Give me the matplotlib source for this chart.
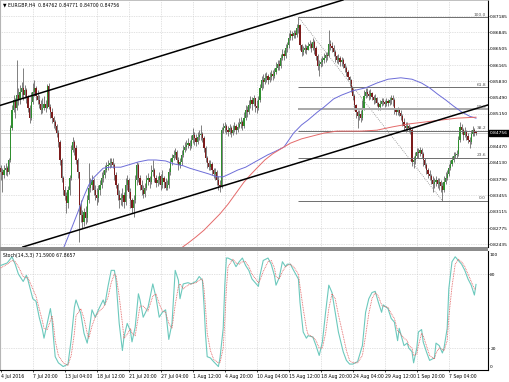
import numpy as np
import matplotlib
matplotlib.use("Agg")
import matplotlib.pyplot as plt
from matplotlib.patches import Rectangle
from matplotlib.transforms import blended_transform_factory as blend

# ---------------- data (EURGBP H4) ----------------
first_open = 0.8402
last_open = 0.84762

close = [
    .8394, .8388, .8398, .8402, .8394, .8419, .8486, .8523, .8544, .8527,
    .8554, .8544, .8560, .8569, .8554, .8565, .8550, .8527, .8506, .8540,
    .8560, .8569, .8552, .8544, .8535, .8523, .8527, .8535, .8527, .8573,
    .8529, .8519, .8506, .8498, .8490, .8475, .8456, .8419, .8382, .8357,
    .8344, .8330, .8357, .8382, .8440, .8456, .8444, .8419, .8394, .8325,
    .8305, .8290, .8311, .8298, .8336, .8361, .8367, .8377, .8357, .8346,
    .8340, .8357, .8367, .8382, .8388, .8398, .8407, .8409, .8413, .8415,
    .8409, .8388, .8367, .8346, .8336, .8340, .8346, .8332, .8367, .8377,
    .8352, .8336, .8319, .8336, .8377, .8409, .8382, .8367, .8357, .8348,
    .8361, .8377, .8382, .8373, .8394, .8398, .8382, .8371, .8377, .8386,
    .8367, .8382, .8373, .8361, .8367, .8394, .8415, .8423, .8430, .8436,
    .8419, .8409, .8415, .8430, .8440, .8446, .8450, .8454, .8448, .8461,
    .8471, .8465, .8456, .8467, .8471, .8473, .8465, .8444, .8423, .8413,
    .8404, .8411, .8398, .8390, .8394, .8377, .8367, .8365, .8481, .8486,
    .8490, .8481, .8477, .8486, .8475, .8481, .8490, .8481, .8488, .8494,
    .8498, .8490, .8506, .8523, .8519, .8533, .8544, .8535, .8548, .8531,
    .8527, .8544, .8569, .8585, .8581, .8590, .8594, .8585, .8592, .8598,
    .8594, .8602, .8610, .8619, .8615, .8631, .8640, .8635, .8652, .8658,
    .8673, .8681, .8677, .8683, .8679, .8694, .8700, .8658, .8644, .8648,
    .8652, .8648, .8656, .8660, .8652, .8664, .8652, .8635, .8615, .8619,
    .8623, .8627, .8631, .8637, .8635, .8660, .8656, .8652, .8644, .8635,
    .8627, .8631, .8623, .8627, .8619, .8610, .8602, .8592, .8585, .8569,
    .8552, .8533, .8519, .8511, .8515, .8506, .8527, .8552, .8560, .8556,
    .8552, .8558, .8550, .8544, .8548, .8538, .8529, .8535, .8542, .8540,
    .8535, .8542, .8538, .8544, .8548, .8544, .8523, .8519, .8523, .8517,
    .8511, .8498, .8490, .8486, .8490, .8486, .8481, .8415, .8419, .8427,
    .8436, .8434, .8440, .8432, .8419, .8409, .8398, .8390, .8386, .8377,
    .8369, .8373, .8377, .8369, .8373, .8365, .8357, .8373, .8382, .8390,
    .8402, .8411, .8419, .8427, .8430, .8432, .8461, .8488, .8481, .8471,
    .8477, .8469, .8461, .8456, .8473, .8481, .8476, .84756,
]

high = [
    .8409, .8402, .8409, .8413, .8407, .8423, .8492, .8533, .8554, .8548,
    .8627, .8569, .8575, .8581, .8610, .8575, .8569, .8554, .8533, .8560,
    .8579, .8585, .8573, .8565, .8554, .8544, .8548, .8552, .8544, .8577,
    .8579, .8535, .8527, .8511, .8502, .8494, .8481, .8461, .8423, .8386,
    .8365, .8352, .8365, .8388, .8450, .8467, .8461, .8450, .8423, .8357,
    .8336, .8315, .8319, .8323, .8346, .8413, .8382, .8388, .8382, .8367,
    .8361, .8367, .8377, .8394, .8398, .8409, .8415, .8419, .8423, .8423,
    .8423, .8413, .8394, .8371, .8357, .8350, .8361, .8352, .8382, .8388,
    .8382, .8361, .8340, .8346, .8388, .8415, .8413, .8388, .8377, .8367,
    .8371, .8388, .8392, .8386, .8409, .8419, .8402, .8388, .8386, .8394,
    .8390, .8398, .8386, .8382, .8377, .8402, .8423, .8432, .8440, .8444,
    .8440, .8425, .8423, .8440, .8450, .8456, .8461, .8465, .8461, .8471,
    .8486, .8477, .8473, .8477, .8481, .8492, .8477, .8469, .8448, .8427,
    .8419, .8419, .8415, .8402, .8402, .8398, .8386, .8377, .8488, .8496,
    .8498, .8494, .8490, .8494, .8490, .8492, .8498, .8494, .8498, .8506,
    .8508, .8502, .8519, .8533, .8531, .8544, .8552, .8550, .8554, .8548,
    .8544, .8552, .8577, .8594, .8598, .8600, .8602, .8598, .8602, .8606,
    .8606, .8610, .8623, .8627, .8627, .8640, .8650, .8648, .8660, .8664,
    .8683, .8689, .8687, .8689, .8689, .8702, .8716, .8702, .8660, .8656,
    .8660, .8658, .8664, .8669, .8664, .8673, .8669, .8656, .8640, .8627,
    .8631, .8635, .8642, .8644, .8644, .8689, .8669, .8664, .8658, .8648,
    .8637, .8640, .8635, .8633, .8631, .8621, .8615, .8606, .8594, .8587,
    .8569, .8556, .8535, .8523, .8523, .8523, .8544, .8565, .8569, .8569,
    .8565, .8567, .8560, .8554, .8556, .8550, .8540, .8544, .8548, .8548,
    .8544, .8548, .8546, .8550, .8554, .8554, .8548, .8527, .8529, .8527,
    .8523, .8515, .8506, .8498, .8498, .8494, .8490, .8486, .8427, .8436,
    .8444, .8444, .8446, .8444, .8436, .8423, .8413, .8402, .8398, .8390,
    .8386, .8382, .8386, .8382, .8382, .8377, .8373, .8386, .8394, .8398,
    .8411, .8419, .8427, .8436, .8436, .8440, .8469, .8498, .8494, .8486,
    .8488, .8481, .8475, .8467, .8481, .8490, .8486, .84771,
]

low = [
    .8377, .8352, .8382, .8388, .8386, .8390, .8415, .8481, .8519, .8506,
    .8523, .8533, .8535, .8548, .8544, .8548, .8538, .8519, .8496, .8502,
    .8535, .8552, .8544, .8535, .8527, .8515, .8517, .8523, .8519, .8535,
    .8525, .8506, .8496, .8486, .8481, .8467, .8446, .8409, .8373, .8346,
    .8336, .8309, .8319, .8346, .8377, .8436, .8430, .8411, .8382, .8248,
    .8290, .8278, .8282, .8286, .8290, .8330, .8352, .8357, .8346, .8336,
    .8325, .8332, .8346, .8361, .8373, .8382, .8394, .8398, .8402, .8404,
    .8402, .8377, .8361, .8336, .8319, .8325, .8323, .8319, .8325, .8357,
    .8340, .8319, .8309, .8300, .8330, .8367, .8373, .8357, .8346, .8340,
    .8342, .8357, .8367, .8361, .8369, .8386, .8373, .8363, .8365, .8369,
    .8357, .8361, .8361, .8357, .8357, .8361, .8388, .8409, .8419, .8423,
    .8413, .8398, .8402, .8409, .8425, .8436, .8440, .8444, .8440, .8444,
    .8454, .8450, .8448, .8452, .8461, .8461, .8456, .8436, .8415, .8402,
    .8398, .8398, .8388, .8382, .8377, .8367, .8357, .8352, .8361, .8475,
    .8477, .8473, .8469, .8473, .8467, .8471, .8477, .8473, .8477, .8486,
    .8486, .8481, .8486, .8502, .8508, .8515, .8527, .8523, .8531, .8519,
    .8517, .8523, .8540, .8565, .8569, .8577, .8581, .8577, .8581, .8585,
    .8585, .8590, .8598, .8606, .8606, .8610, .8627, .8627, .8631, .8644,
    .8652, .8669, .8669, .8673, .8673, .8675, .8683, .8648, .8635, .8637,
    .8642, .8640, .8648, .8652, .8644, .8648, .8640, .8627, .8606, .8594,
    .8612, .8615, .8621, .8623, .8627, .8633, .8648, .8644, .8635, .8623,
    .8621, .8619, .8615, .8615, .8610, .8602, .8594, .8585, .8573, .8560,
    .8544, .8523, .8506, .8486, .8502, .8498, .8502, .8523, .8548, .8550,
    .8544, .8546, .8544, .8535, .8538, .8531, .8523, .8523, .8531, .8533,
    .8529, .8531, .8531, .8533, .8535, .8531, .8515, .8513, .8513, .8511,
    .8502, .8490, .8481, .8477, .8479, .8477, .8473, .8407, .8402, .8411,
    .8423, .8423, .8427, .8423, .8407, .8402, .8390, .8382, .8377, .8369,
    .8352, .8361, .8365, .8361, .8357, .8352, .8334, .8352, .8369, .8377,
    .8386, .8398, .8407, .8415, .8423, .8423, .8427, .8456, .8473, .8461,
    .8467, .8461, .8454, .8444, .8452, .8469, .8469, .84700,
]

# moving averages
ma_blue_bar = [39, 44, 48, 52, 55, 58, 61, 64, 68, 75,
               80, 86, 92, 97, 103, 108, 114, 118, 124, 130,
               135, 139, 143, 148, 153, 161, 167, 171, 177, 183,
               188, 192, 198, 202, 208, 213, 220, 228, 235, 242,
               250, 257, 263, 268, 273, 278, 283, 288, 293, 297]
ma_blue = [.8234, .8275, .8309, .8344, .8367, .8382, .8392, .8402, .8404, .8404,
           .8409, .8415, .8419, .8419, .8417, .8411, .8407, .8402, .8396, .8390,
           .8384, .8384, .8390, .8398, .8404, .8419, .8430, .8436, .8446, .8475,
           .8492, .8502, .8519, .8529, .8546, .8554, .8563, .8569, .8579, .8587,
           .8590, .8587, .8579, .8569, .8556, .8544, .8531, .8519, .8510, .8506]
ma_red_bar = [112, 117, 122, 127, 132, 137, 142, 147, 152, 156, 160, 165, 170, 176,
              181, 188, 195, 202, 210, 218, 225, 235, 245, 255, 265, 275, 285, 297]
ma_red = [.8234, .8246, .8259, .8273, .8290, .8307, .8327, .8350, .8373, .8388, .8402,
          .8419, .8432, .8444, .8454, .8463, .8469, .8475, .8479, .8479, .8479, .8481,
          .8488, .8494, .8498, .8502, .8506, .8508]

# trend channel anchors (bar, price)
chan_upper = [(0, 0.8533), (214, 0.8752)]
chan_lower = [(0, 0.8224), (305, 0.8534)]

# fibonacci retracement
fib_high_bar, fib_high = 186, 0.8716
fib_low_bar, fib_low = 276, 0.8334
fib_levels = [0.0, 23.6, 38.2, 50.0, 61.8, 100.0]

# stochastic (14,3,3)
stoch_bar = [0, 4, 7, 9, 11, 14, 16, 17, 20, 22,
             24, 26, 27, 29, 31, 32, 33, 34, 36, 39,
             42, 44, 46, 47, 50, 52, 54, 55, 57, 59,
             61, 64, 65, 67, 69, 71, 72, 74, 76, 77,
             79, 81, 82, 84, 86, 87, 89, 92, 95, 97,
             99, 101, 103, 105, 107, 109, 111, 112, 114, 117,
             119, 122, 124, 126, 127, 128, 129, 131, 133, 136,
             137, 139, 140, 141, 142, 145, 147, 149, 151, 153,
             155, 157, 161, 162, 164, 167, 169, 171, 172, 174,
             176, 178, 179, 181, 183, 186, 187, 189, 191, 192,
             195, 197, 199, 201, 203, 205, 207, 209, 211, 214,
             216, 218, 220, 223, 226, 228, 230, 232, 234, 236,
             238, 239, 242, 244, 246, 248, 249, 252, 254, 255,
             257, 258, 260, 261, 263, 264, 266, 268, 271, 272,
             274, 276, 277, 279, 280, 282, 284, 286, 288, 290,
             292, 294, 296, 297]
stoch_main = [87, 89, 94, 88, 80, 74, 79, 75, 60, 58,
              45, 35, 28, 40, 52, 43, 27, 13, 8, 5,
              7, 27, 53, 59, 48, 32, 24, 32, 51, 45,
              51, 59, 55, 70, 83, 83, 75, 40, 18, 29,
              40, 34, 25, 37, 64, 59, 45, 53, 72, 61,
              45, 49, 51, 27, 40, 83, 75, 60, 72, 73,
              72, 74, 78, 75, 55, 30, 13, 12, 9, 5,
              12, 36, 71, 93, 93, 91, 86, 90, 93, 87,
              83, 76, 70, 79, 91, 93, 88, 79, 71, 77,
              90, 86, 88, 88, 83, 76, 57, 33, 28, 30,
              29, 22, 14, 25, 49, 71, 65, 49, 33, 17,
              10, 7, 7, 9, 22, 49, 60, 65, 66, 57,
              49, 55, 52, 44, 41, 26, 36, 22, 24, 20,
              17, 8, 20, 33, 35, 25, 17, 10, 12, 24,
              22, 16, 20, 36, 68, 90, 94, 91, 88, 83,
              76, 71, 63, 71.59]
stoch_signal = [85, 88, 91, 90, 86, 78, 77, 77, 68, 62,
                52, 42, 36, 35, 42, 46, 38, 26, 14, 8,
                6, 14, 32, 46, 52, 44, 32, 28, 38, 45,
                49, 53, 55, 61, 73, 80, 79, 62, 40, 28,
                31, 36, 32, 30, 46, 54, 54, 50, 62, 64,
                56, 50, 49, 40, 36, 55, 70, 72, 68, 71,
                72, 73, 75, 76, 68, 52, 32, 18, 11, 8,
                8, 20, 42, 68, 86, 92, 89, 88, 90, 90,
                86, 80, 73, 75, 82, 90, 91, 85, 78, 76,
                82, 86, 87, 88, 86, 80, 70, 52, 36, 31,
                29, 26, 20, 20, 32, 52, 64, 60, 47, 30,
                18, 10, 8, 8, 14, 30, 48, 60, 65, 62,
                55, 54, 53, 48, 44, 34, 33, 28, 26, 22,
                20, 14, 15, 22, 32, 30, 22, 14, 11, 16,
                20, 19, 18, 26, 45, 70, 88, 92, 90, 86,
                80, 74, 68, 67.87]
stoch_levels = [20, 80]

price_ticks = [0.87185, 0.86845, 0.86505, 0.86165, 0.85830, 0.85490, 0.85150, 0.84810,
               0.84470, 0.84130, 0.83790, 0.83455, 0.83115, 0.82775, 0.82435]
price_tick_labels = ["0.87185", "0.86845", "0.86505", "0.86165", "0.85830", "0.85490",
                     "0.85150", "0.84810", "0.84470", "0.84130", "0.83790", "0.83455",
                     "0.83115", "0.82775", "0.82435"]
date_bars = [0, 20, 40, 60, 80, 100, 120, 140, 160, 180, 200, 220, 240, 260, 280]
date_labels = ["4 Jul 2016", "7 Jul 20:00", "13 Jul 04:00", "18 Jul 12:00", "21 Jul 20:00",
               "27 Jul 04:00", "1 Aug 12:00", "4 Aug 20:00", "10 Aug 04:00", "15 Aug 12:00",
               "18 Aug 20:00", "24 Aug 04:00", "29 Aug 12:00", "1 Sep 20:00", "7 Sep 04:00"]

header = "\u25BC EURGBP,H4  0.84762 0.84771 0.84700 0.84756"
stoch_title = "Stoch(14,3,3) 71.5900 67.8657"
current_label = "0.84756"

# ---------------- figure ----------------
W, H = 510, 382
fig = plt.figure(figsize=(W / 100, H / 100), dpi=100)
fig.patch.set_facecolor("white")


def box(x0, y0, x1, y1):
    return [x0 / W, 1 - y1 / H, (x1 - x0) / W, (y1 - y0) / H]


ax = fig.add_axes(box(0, 0, 488, 247))
axs = fig.add_axes(box(0, 251, 488, 370))

XMIN, XMAX = -0.5, 304.5
PMIN, PMAX = 0.82380, 0.87518
LABEL_FS = 3.15

c = np.array(close)
h = np.array(high)
l = np.array(low)
o = np.r_[first_open, c[:-1]]
o[-1] = last_open
h = np.maximum(h, np.maximum(o, c))
l = np.minimum(l, np.minimum(o, c))
idx = np.arange(len(c))

grid_kw = dict(color="#c6c6c6", lw=0.5, ls=(0, (1, 1.5)), zorder=0)
for p in price_ticks:
    ax.axhline(p, **grid_kw)
for b in date_bars[1:]:
    ax.axvline(b, **grid_kw)
    axs.axvline(b, **grid_kw)
for v in stoch_levels:
    axs.axhline(v, **grid_kw)

# bid line
ax.axhline(c[-1], color="#c3c3c3", lw=0.6, zorder=1)

# candles
ax.vlines(idx, l, h, colors="#4d4d4d", lw=0.5, zorder=3)
bottom = np.minimum(o, c)
height = np.maximum(np.abs(c - o), 0.00004)
up = c >= o
ax.bar(idx[up], height[up], bottom=bottom[up], width=0.75, color="#2f8f2f",
       linewidth=0, zorder=4)
ax.bar(idx[~up], height[~up], bottom=bottom[~up], width=0.75, color="#7d1c1c",
       linewidth=0, zorder=4)

# moving averages
ax.plot(ma_blue_bar, ma_blue, color="#6d6dd8", lw=0.7, zorder=6)
ax.plot(ma_red_bar, ma_red, color="#e46a6a", lw=0.7, zorder=6)

# channel
ax.axline(chan_upper[0], chan_upper[1], color="black", lw=1.1, zorder=7)
ax.axline(chan_lower[0], chan_lower[1], color="black", lw=1.1, zorder=7)

# fibonacci
ax.plot([fib_high_bar, fib_low_bar], [fib_high, fib_low], color="#8a8a8a",
        lw=0.6, ls=(0, (1, 1.5)), zorder=5)
for r in fib_levels:
    lv = fib_low + r / 100.0 * (fib_high - fib_low)
    lw = 1.4 if r == 50.0 else 0.7
    col = "#a8a8a8" if r == 50.0 else "#6e6e6e"
    ax.hlines(lv, fib_high_bar, XMAX, color=col, lw=lw, zorder=5)
    ax.text(XMAX - 1.2, lv + 0.0001, f"{r:.1f}", ha="right", va="bottom",
            fontsize=3.2, color="#555555", zorder=8)

# stochastic
axs.plot(stoch_bar, stoch_main, color="#6cc9bd", lw=0.8, zorder=3)
axs.plot(stoch_bar, stoch_signal, color="#e05858", lw=0.6, ls=(0, (1, 1)), zorder=4)

# axes styling
for a in (ax, axs):
    a.set_xlim(XMIN, XMAX)
    a.set_facecolor("white")
    a.spines["right"].set_color("black")
    a.spines["right"].set_linewidth(0.8)
    a.spines["left"].set_color("#b5b5b5")
    a.spines["left"].set_linewidth(0.8)
ax.spines["top"].set_color("#b5b5b5")
ax.spines["top"].set_linewidth(0.6)
ax.spines["bottom"].set_visible(False)
axs.spines["top"].set_visible(False)
axs.spines["bottom"].set_color("black")
axs.spines["bottom"].set_linewidth(0.8)

# price scale: the label hidden behind the current-price box is left blank
ax.set_ylim(PMIN, PMAX)
ax.yaxis.tick_right()
ax.set_yticks(price_ticks)
shown = [("" if abs(p - c[-1]) < 0.0006 else s) for p, s in zip(price_ticks, price_tick_labels)]
ax.set_yticklabels(shown, fontsize=LABEL_FS)
ax.tick_params(axis="y", length=1.0, width=0.5, pad=0.6)
ax.tick_params(axis="x", length=0, labelbottom=False)
ax.set_xticks([])

axs.set_ylim(2.2, 98.7)
axs.yaxis.tick_right()
axs.set_yticks(stoch_levels)
axs.set_yticklabels([str(v) for v in stoch_levels], fontsize=LABEL_FS)
axs.tick_params(axis="y", length=1.0, width=0.5, pad=0.6)
axs.text(1.004, 0.985, "100", transform=axs.transAxes, ha="left", va="top", fontsize=LABEL_FS)
axs.text(1.004, 0.01, "0", transform=axs.transAxes, ha="left", va="bottom", fontsize=LABEL_FS)

axs.set_xticks(date_bars)
axs.set_xticklabels(date_labels, fontsize=3.3)
for t in axs.get_xticklabels():
    t.set_ha("left")
axs.tick_params(axis="x", length=1.5, width=0.5, pad=1.2)

# current price box
ax.text(1.004, c[-1], current_label, transform=blend(ax.transAxes, ax.transData),
        ha="left", va="center", fontsize=LABEL_FS, color="white", zorder=20, clip_on=False,
        bbox=dict(boxstyle="square,pad=0.2", fc="black", ec="black"))

# titles
ax.text(0.006, 0.99, header, transform=ax.transAxes, ha="left", va="top",
        fontsize=3.3, color="black", zorder=20)
axs.text(0.006, 0.985, stoch_title, transform=axs.transAxes, ha="left", va="top",
         fontsize=3.3, color="black", zorder=20)

# panel separator
fig.add_artist(Rectangle((0, 1 - 250.5 / H), 488 / W, 3.2 / H, transform=fig.transFigure,
                         fc="#8c8c8c", ec="none"))

fig.savefig("out.png", dpi=100, facecolor="white")
